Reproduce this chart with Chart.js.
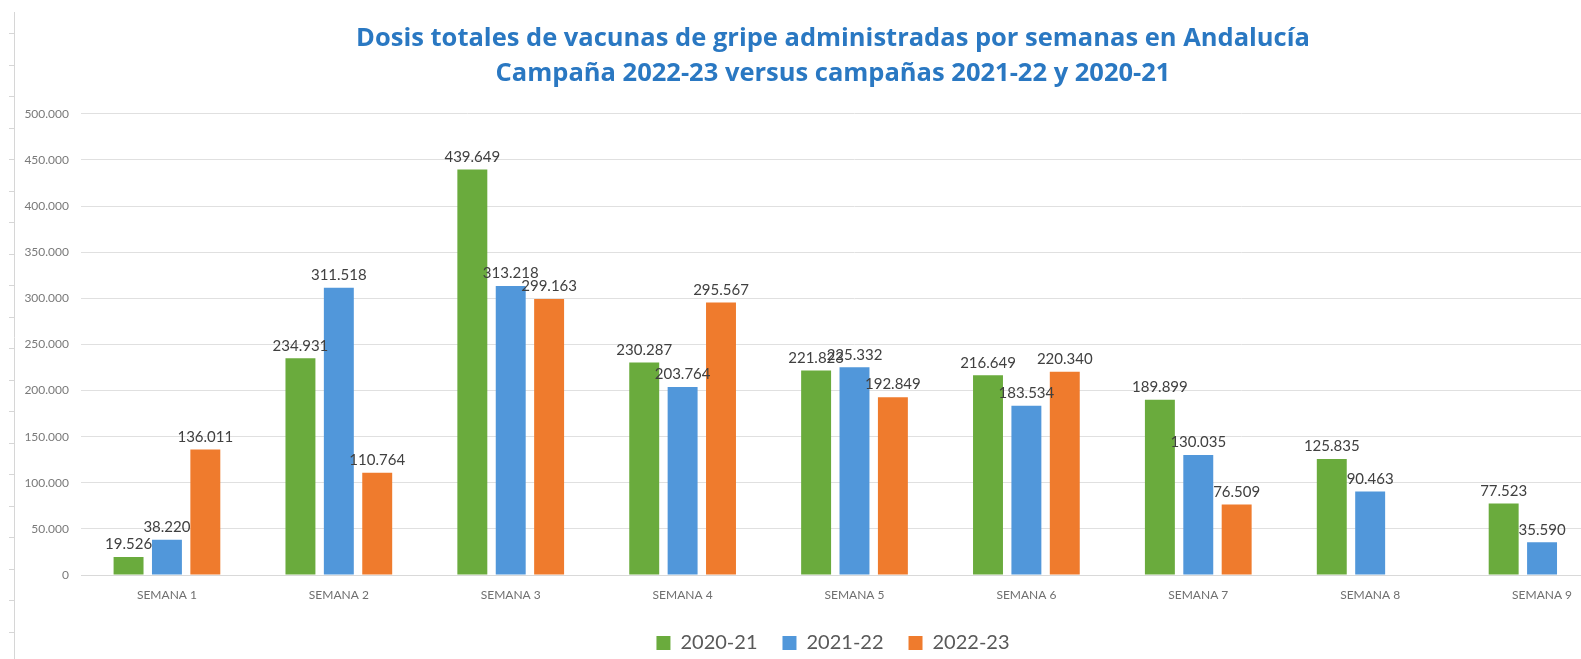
<!DOCTYPE html>
<html>
<head>
<meta charset="utf-8">
<script src="https://cdn.jsdelivr.net/npm/chart.js@4"></script>
<style>
  html, body { margin: 0; padding: 0; background: #ffffff; overflow: hidden; width: 1581px; height: 659px; }
  #wrap { position: relative; width: 1664px; height: 663px; }
</style>
</head>
<body>
<div id="wrap"><canvas id="c" width="1664" height="663"></canvas></div>
<script>
const categories = ["SEMANA 1","SEMANA 2","SEMANA 3","SEMANA 4","SEMANA 5","SEMANA 6","SEMANA 7","SEMANA 8","SEMANA 9"];
const seriesNames = ["2020-21","2021-22","2022-23"];
const values2020_21 = [19526, 234931, 439649, 230287, 221823, 216649, 189899, 125835, 77523];
const values2021_22 = [38220, 311518, 313218, 203764, 225332, 183534, 130035, 90463, 35590];
const values2022_23 = [136011, 110764, 299163, 295567, 192849, 220340, 76509, null, null];
const yTicks = [0, 50000, 100000, 150000, 200000, 250000, 300000, 350000, 400000, 450000, 500000];
const titleLines = ["Dosis totales de vacunas de gripe administradas por semanas en Andalucía",
                    "Campaña 2022-23 versus campañas 2021-22 y 2020-21"];

const fmt = v => v.toLocaleString('de-DE');

// let the y tick labels overhang the scale box (they sit partly in the left padding)
Chart.LinearScale.prototype._computeLabelArea = function () { return undefined; };

const valueLabels = {
  id: 'valueLabels',
  afterDatasetsDraw(chart) {
    const ctx = chart.ctx;
    ctx.save();
    ctx.font = '15px Lato';
    ctx.fillStyle = '#404040';
    ctx.textAlign = 'center';
    ctx.textBaseline = 'bottom';
    chart.data.datasets.forEach((ds, di) => {
      const meta = chart.getDatasetMeta(di);
      meta.data.forEach((el, i) => {
        const v = ds.data[i];
        if (v === null || v === undefined) return;
        ctx.fillText(fmt(v), el.x, el.y - 5);
      });
    });
    ctx.restore();
  }
};

const edgeRuler = {
  id: 'edgeRuler',
  beforeDraw(chart) {
    const ctx = chart.ctx;
    ctx.save();
    ctx.strokeStyle = '#d6d6d6';
    ctx.lineWidth = 1;
    ctx.beginPath();
    ctx.moveTo(14.5, 12); ctx.lineTo(14.5, 663);
    for (let y = 33; y < 660; y += 31.5) {
      ctx.moveTo(9, Math.round(y) + 0.5); ctx.lineTo(14.5, Math.round(y) + 0.5);
    }
    ctx.stroke();
    ctx.restore();
  }
};

new Chart(document.getElementById('c'), {
  type: 'bar',
  data: {
    labels: categories,
    datasets: [
      { label: seriesNames[0], data: values2020_21, backgroundColor: '#6aab3d' },
      { label: seriesNames[1], data: values2021_22, backgroundColor: '#5197da' },
      { label: seriesNames[2], data: values2022_23, backgroundColor: '#ef7b2d' }
    ]
  },
  options: {
    responsive: false,
    animation: false,
    devicePixelRatio: 1,
    layout: { padding: { left: 38, right: 36, top: 0, bottom: 0 } },
    datasets: { bar: { categoryPercentage: 0.67, barPercentage: 0.78 } },
    plugins: {
      title: {
        display: true,
        text: titleLines,
        color: '#2a78c2',
        font: { family: 'Open Sans', size: 25.5, weight: 'bold', lineHeight: 1.35 },
        padding: { top: 22, bottom: 23 }
      },
      legend: {
        position: 'bottom',
        labels: {
          boxWidth: 14, boxHeight: 14,
          padding: 25,
          color: '#595959',
          font: { family: 'Lato', size: 20 }
        }
      },
      tooltip: { enabled: false }
    },
    scales: {
      x: {
        grid: { display: false, drawTicks: false },
        border: { display: true, color: '#d9d9d9' },
        ticks: { color: '#6f6f6f', font: { family: 'Lato', size: 12 }, padding: 13, maxRotation: 0, autoSkip: false },
        afterFit(scale) { scale.height = 33; }
      },
      y: {
        min: 0, max: 500000,
        afterBuildTicks(scale) { scale.ticks = yTicks.map(v => ({ value: v })); },
        grid: { color: '#e0e0e0', drawTicks: false },
        border: { display: false },
        ticks: { color: '#7a7a7a', font: { family: 'Lato', size: 12 }, padding: 12, callback: v => fmt(v) },
        afterFit(scale) { scale.width = 43; }
      }
    }
  },
  plugins: [valueLabels, edgeRuler]
});
</script>
</body>
</html>
